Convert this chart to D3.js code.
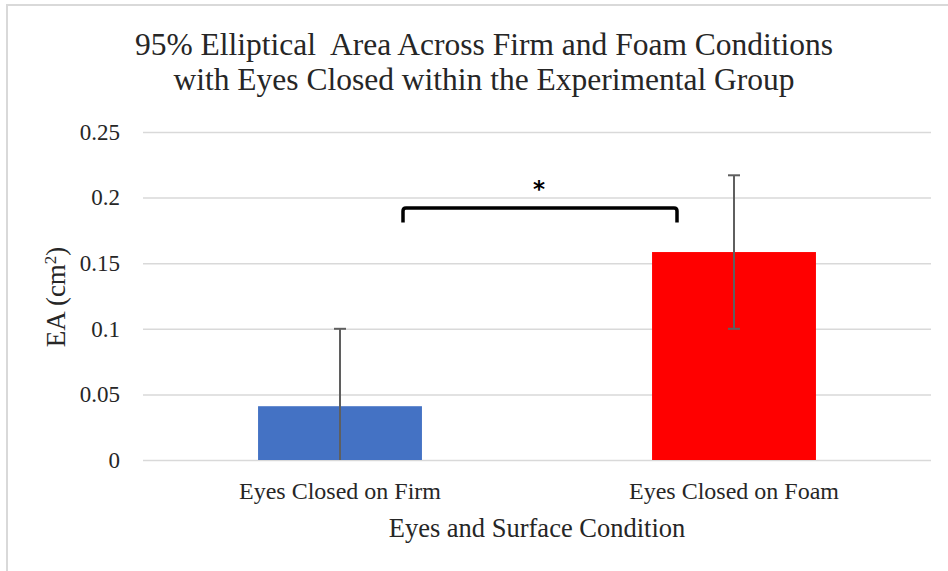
<!DOCTYPE html>
<html>
<head>
<meta charset="utf-8">
<script src="https://cdn.jsdelivr.net/npm/d3@7"></script>
<style>
  body { margin: 0; background: #fff; }
</style>
</head>
<body>
<svg id="chart" width="948" height="571"></svg>
<script>
// data
let categories = ["Eyes Closed on Firm", "Eyes Closed on Foam"],
    means = [0.041, 0.1585],
    errors = [0.059, 0.0585],
    barColors = ["#4472C4", "#FF0000"],
    yTicks = [0, 0.05, 0.1, 0.15, 0.2, 0.25];

let serif = "'Liberation Serif', 'Times New Roman', serif",
    textColor = "#262626";

let svg = d3.select("#chart"),
    margin = {top: 132, right: 17, bottom: 111, left: 143},
    width = svg.attr("width") - margin.left - margin.right,
    height = svg.attr("height") - margin.top - margin.bottom,
    g = svg.append("g").attr("transform", "translate(" + margin.left + "," + margin.top + ")");

//chart frame (only top and left edge visible)
svg.append("line").attr("x1", 6).attr("x2", 948).attr("y1", 5).attr("y2", 5)
  .attr("stroke", "#d9d9d9").attr("stroke-width", 2);
svg.append("line").attr("x1", 7).attr("x2", 7).attr("y1", 4).attr("y2", 571)
  .attr("stroke", "#d9d9d9").attr("stroke-width", 2);

//scales
let x = d3.scaleBand().domain(categories).range([0, width]).paddingInner(0.584).paddingOuter(0.292),
    y = d3.scaleLinear().domain([0, 0.25]).range([height, 0]);

//gridlines + y labels
let yAxis = g.append("g")
  .call(d3.axisLeft(y).tickValues(yTicks).tickSize(-width).tickPadding(23)
    .tickFormat(function(d) { return d === 0 ? "0" : String(+d.toFixed(2)); }));
yAxis.select(".domain").remove();
yAxis.selectAll(".tick line").attr("stroke", "#d9d9d9").attr("stroke-width", 1.5);
yAxis.selectAll(".tick text").style("font-size", "23px").attr("fill", textColor)
  .style("font-family", serif);

//x labels
let xAxis = g.append("g")
  .attr("transform", "translate(0," + height + ")")
  .call(d3.axisBottom(x).tickSize(0).tickPadding(22));
xAxis.select(".domain").remove();
xAxis.selectAll(".tick text").style("font-size", "24px").attr("fill", textColor)
  .style("font-family", serif);

//bars
g.selectAll(".bar")
  .data(categories)
  .enter().append("rect")
  .attr("class", "bar")
  .attr("x", function(d) { return x(d); })
  .attr("y", function(d, i) { return y(means[i]); })
  .attr("width", x.bandwidth())
  .attr("height", function(d, i) { return y(0) - y(means[i]); })
  .attr("fill", function(d, i) { return barColors[i]; });

//error bars
function idx(d) { return categories.indexOf(d); }
function cx(d) { return x(d) + x.bandwidth() / 2; }

let errG = g.selectAll(".err")
  .data(categories)
  .enter().append("g")
  .attr("class", "err")
  .attr("stroke", "#5f5f5f")
  .attr("stroke-width", 2);

errG.append("line")
  .attr("x1", cx).attr("x2", cx)
  .attr("y1", function(d) { return y(Math.max(0, means[idx(d)] - errors[idx(d)])); })
  .attr("y2", function(d) { return y(means[idx(d)] + errors[idx(d)]); });

errG.append("line")
  .attr("x1", function(d) { return cx(d) - 6; })
  .attr("x2", function(d) { return cx(d) + 6; })
  .attr("y1", function(d) { return y(means[idx(d)] + errors[idx(d)]); })
  .attr("y2", function(d) { return y(means[idx(d)] + errors[idx(d)]); });

errG.filter(function(d) { return means[idx(d)] - errors[idx(d)] > 0; })
  .append("line")
  .attr("x1", function(d) { return cx(d) - 6; })
  .attr("x2", function(d) { return cx(d) + 6; })
  .attr("y1", function(d) { return y(means[idx(d)] - errors[idx(d)]); })
  .attr("y2", function(d) { return y(means[idx(d)] - errors[idx(d)]); });

//significance bracket
let bx0 = cx(categories[0]) + 63,
    bx1 = cx(categories[1]) - 57,
    byTop = y(0.192),
    byLeg = y(0.181);

g.append("path")
  .attr("d", "M" + bx0 + "," + byLeg + " L" + bx0 + "," + (byTop + 3) +
    " Q" + bx0 + "," + byTop + " " + (bx0 + 3) + "," + byTop +
    " L" + (bx1 - 3) + "," + byTop +
    " Q" + bx1 + "," + byTop + " " + bx1 + "," + (byTop + 3) +
    " L" + bx1 + "," + byLeg)
  .attr("fill", "none")
  .attr("stroke", "#000")
  .attr("stroke-width", 3.5);

g.append("text")
  .attr("x", (bx0 + bx1) / 2 - 1)
  .attr("y", byTop - 11)
  .attr("text-anchor", "middle")
  .style("font-family", "'DejaVu Sans', sans-serif")
  .style("font-size", "23px")
  .style("font-weight", "bold")
  .attr("fill", "#000")
  .text("*");

//titles
let title = svg.append("g").attr("class", "title")
  .style("font-family", serif).style("font-size", "31.5px").attr("fill", textColor);
title.append("text")
  .attr("x", 484).attr("y", 55)
  .attr("text-anchor", "middle")
  .text("95% Elliptical\u00a0 Area Across Firm and Foam Conditions");
title.append("text")
  .attr("x", 484).attr("y", 90)
  .attr("text-anchor", "middle")
  .text("with Eyes Closed within the Experimental Group");

svg.append("text")
  .attr("x", margin.left + width / 2)
  .attr("y", 537)
  .attr("text-anchor", "middle")
  .style("font-family", serif)
  .style("font-size", "26.5px")
  .attr("fill", textColor)
  .text("Eyes and Surface Condition");

let yTitle = svg.append("text")
  .attr("transform", "translate(65,297) rotate(-90)")
  .attr("text-anchor", "middle")
  .style("font-family", serif)
  .style("font-size", "27px")
  .attr("fill", textColor);
yTitle.append("tspan").text("EA (cm");
yTitle.append("tspan").attr("baseline-shift", "super").style("font-size", "17px").text("2");
yTitle.append("tspan").text(")");
</script>
</body>
</html>
